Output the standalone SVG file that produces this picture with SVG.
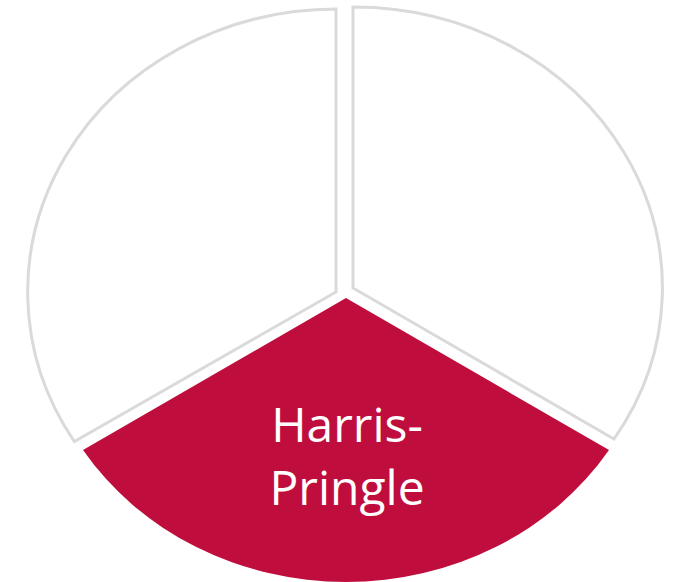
<svg xmlns="http://www.w3.org/2000/svg" width="676" height="582" viewBox="0 0 676 582">
<style>
.slice{fill:#ffffff;stroke:#dadada;stroke-width:3;stroke-linejoin:miter}
.hl{fill:#bf0e3d;stroke:none}
.lbl{font-family:"Open Sans","Liberation Sans",sans-serif;font-size:48px;fill:#ffffff;text-anchor:middle}
</style>
<rect width="676" height="582" fill="#ffffff"/>
<g id="slice-top-left">
<path class="slice" d="M336,292 L336,9 A309,283 0 0 0 74.4,441.6 Z"/>
</g>
<g id="slice-top-right">
<path class="slice" d="M353,288 L353,7 A309,281 0 0 1 614,439 Z"/>
</g>
<g id="slice-bottom">
<path class="hl" d="M346,298 L609,450 A311,283 0 0 1 83,450 Z"/>
<text class="lbl" x="347" y="442">Harris-</text>
<text class="lbl" x="347" y="505">Pringle</text>
</g>
<g id="connectors"></g>
</svg>
